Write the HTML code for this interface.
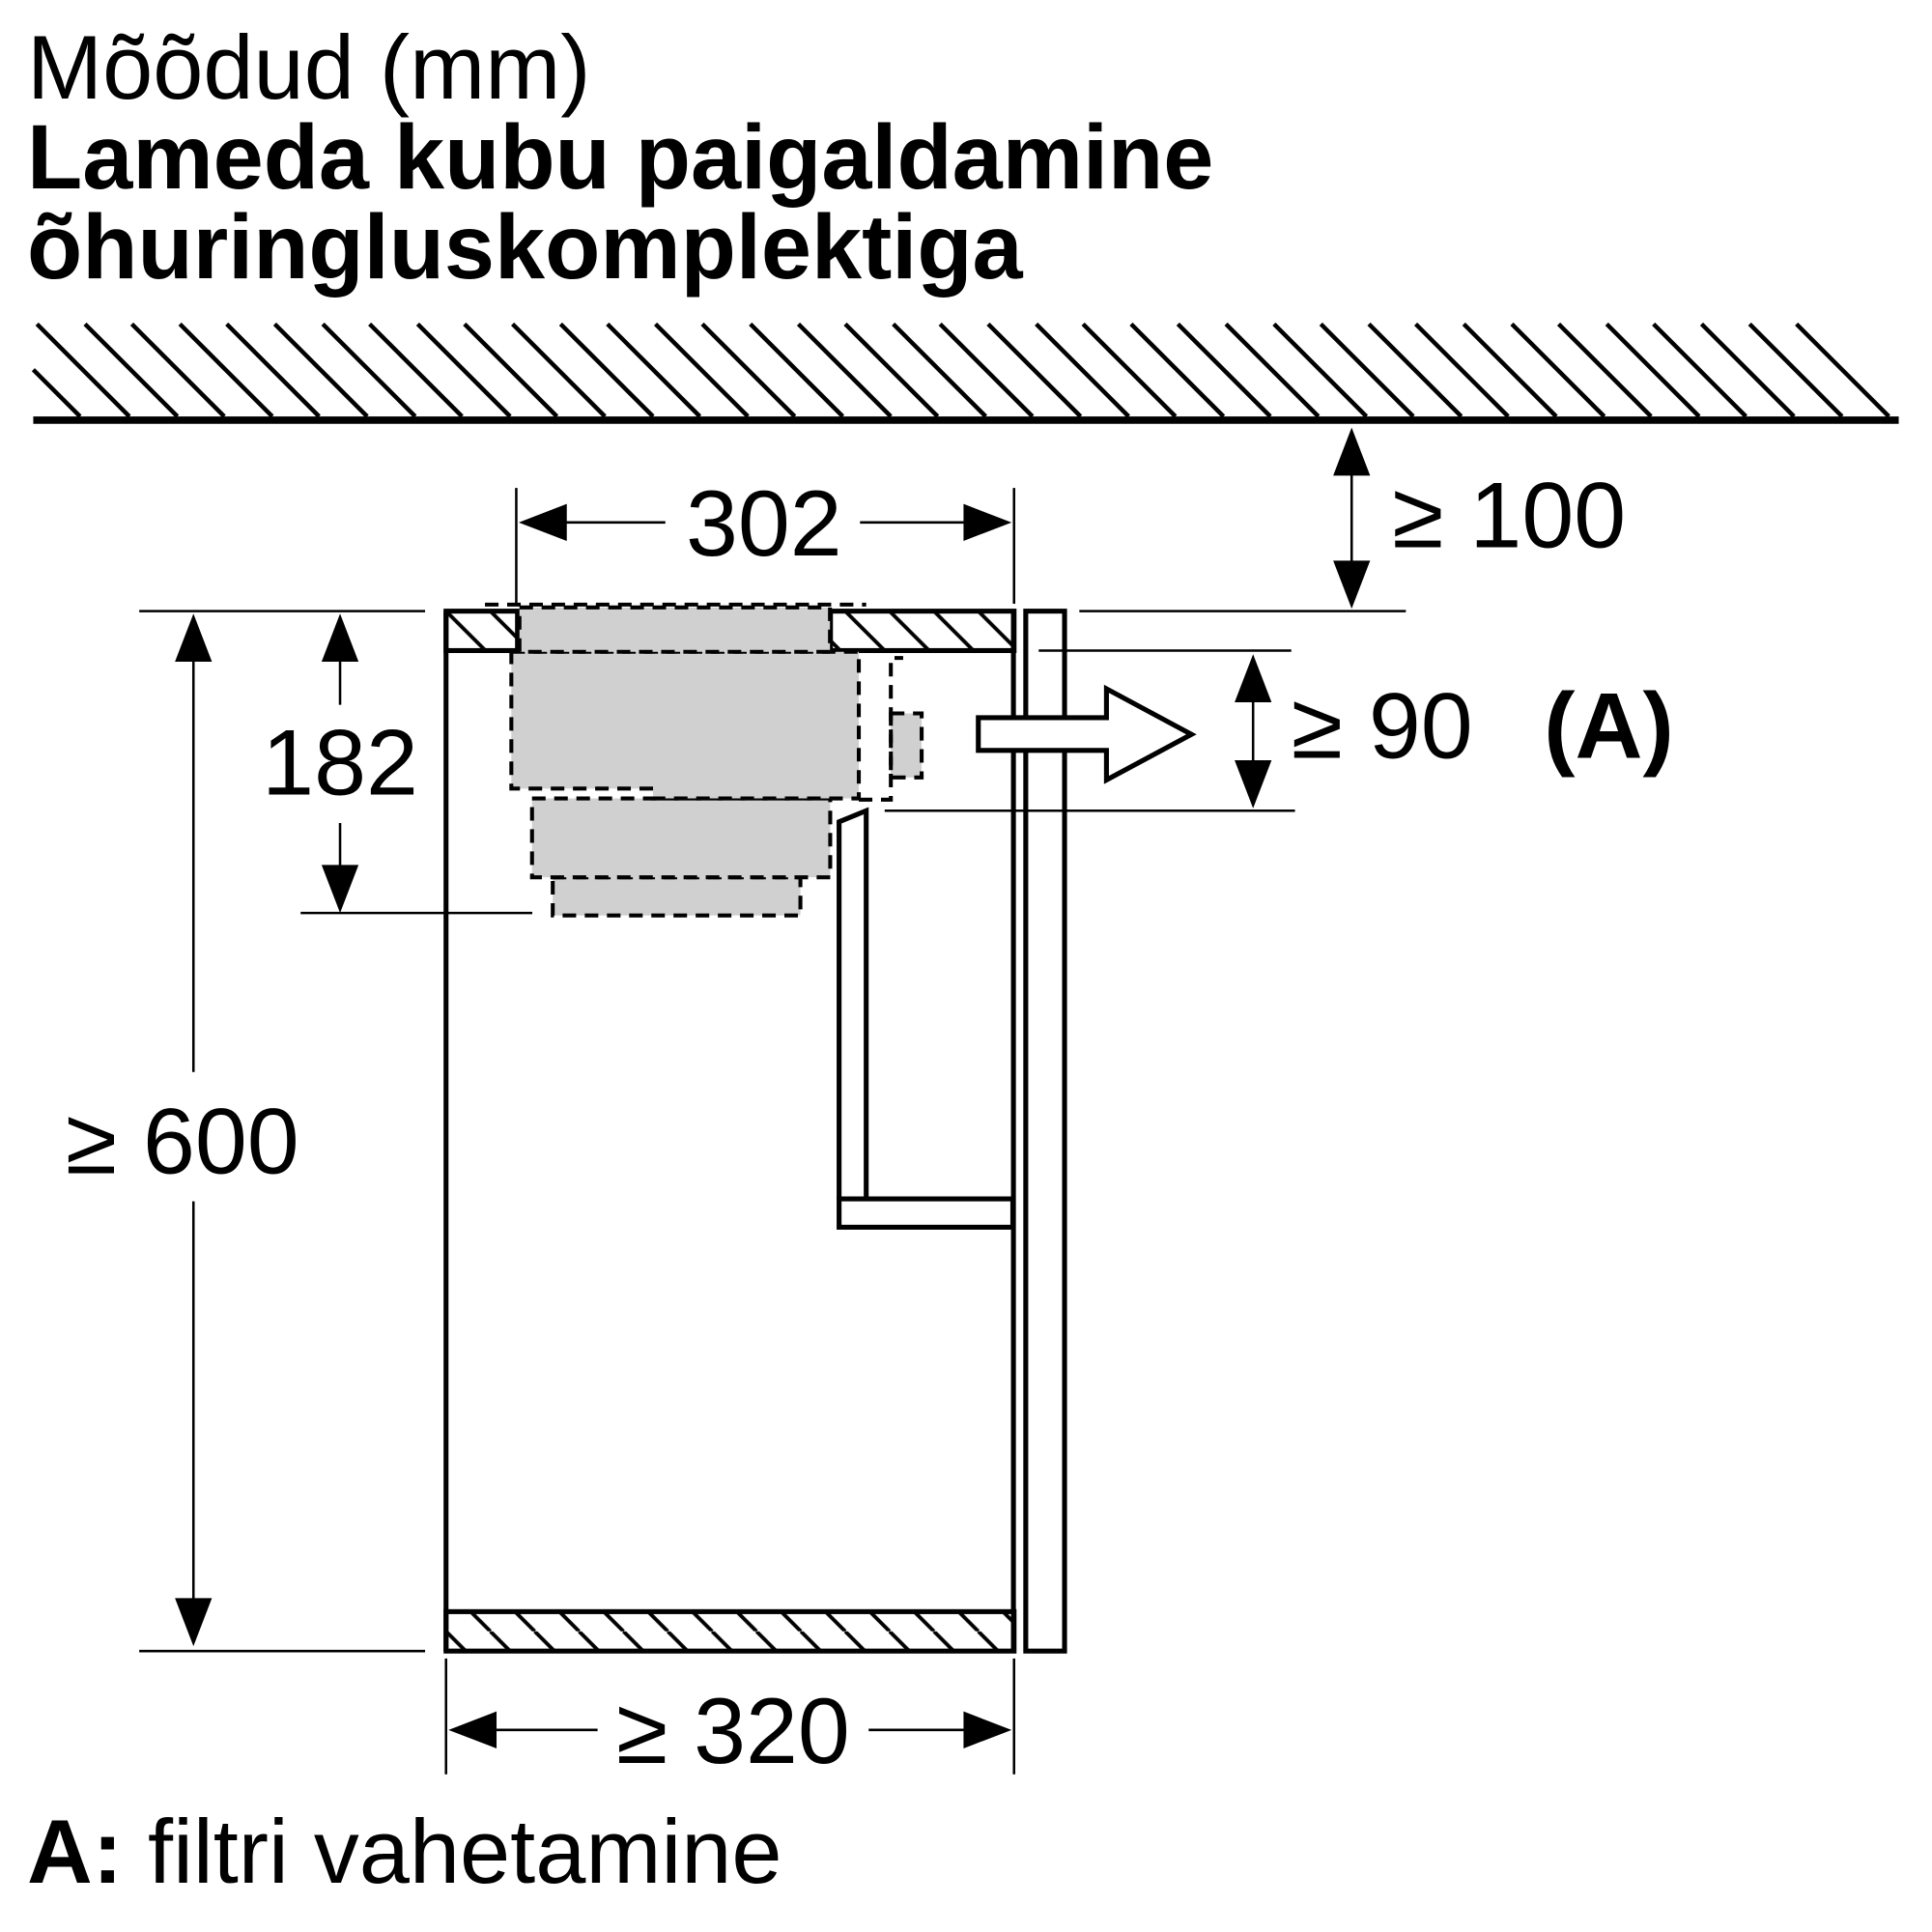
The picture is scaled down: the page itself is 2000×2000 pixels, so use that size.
<!DOCTYPE html>
<html><head><meta charset="utf-8"><style>
html,body{margin:0;padding:0;background:#fff}
svg{display:block}
text{font-family:"Liberation Sans",sans-serif;fill:#000}
</style></head><body>
<svg width="2000" height="2000" viewBox="0 0 1568 1568" xmlns="http://www.w3.org/2000/svg">
<defs>
<pattern id="h" patternUnits="userSpaceOnUse" width="36" height="36" patternTransform="translate(362,496)">
<line x1="0" y1="0" x2="36" y2="36" stroke="#000" stroke-width="3"/>
<line x1="-36" y1="0" x2="0" y2="36" stroke="#000" stroke-width="3"/>
<line x1="36" y1="0" x2="72" y2="36" stroke="#000" stroke-width="3"/>
</pattern>
</defs>
<text x="22" y="80" font-size="73.5">Mõõdud (mm)</text>
<text x="22" y="153" font-size="74" font-weight="bold" textLength="963" lengthAdjust="spacingAndGlyphs">Lameda kubu paigaldamine</text>
<text x="22" y="226" font-size="74" font-weight="bold" textLength="808" lengthAdjust="spacingAndGlyphs">õhuringluskomplektiga</text>

<!-- ceiling -->
<g stroke="#000" stroke-width="3.5">
<line x1="27" y1="300" x2="65" y2="338"/>
<line x1="30" y1="263" x2="105" y2="338"/>
<line x1="69" y1="263" x2="144" y2="338"/>
<line x1="107" y1="263" x2="182" y2="338"/>
<line x1="146" y1="263" x2="221" y2="338"/>
<line x1="184" y1="263" x2="259" y2="338"/>
<line x1="223" y1="263" x2="298" y2="338"/>
<line x1="262" y1="263" x2="337" y2="338"/>
<line x1="300" y1="263" x2="375" y2="338"/>
<line x1="339" y1="263" x2="414" y2="338"/>
<line x1="377" y1="263" x2="452" y2="338"/>
<line x1="416" y1="263" x2="491" y2="338"/>
<line x1="455" y1="263" x2="530" y2="338"/>
<line x1="493" y1="263" x2="568" y2="338"/>
<line x1="532" y1="263" x2="607" y2="338"/>
<line x1="570" y1="263" x2="645" y2="338"/>
<line x1="609" y1="263" x2="684" y2="338"/>
<line x1="648" y1="263" x2="723" y2="338"/>
<line x1="686" y1="263" x2="761" y2="338"/>
<line x1="725" y1="263" x2="800" y2="338"/>
<line x1="763" y1="263" x2="838" y2="338"/>
<line x1="802" y1="263" x2="877" y2="338"/>
<line x1="841" y1="263" x2="916" y2="338"/>
<line x1="879" y1="263" x2="954" y2="338"/>
<line x1="918" y1="263" x2="993" y2="338"/>
<line x1="956" y1="263" x2="1031" y2="338"/>
<line x1="995" y1="263" x2="1070" y2="338"/>
<line x1="1034" y1="263" x2="1109" y2="338"/>
<line x1="1072" y1="263" x2="1147" y2="338"/>
<line x1="1111" y1="263" x2="1186" y2="338"/>
<line x1="1149" y1="263" x2="1224" y2="338"/>
<line x1="1188" y1="263" x2="1263" y2="338"/>
<line x1="1227" y1="263" x2="1302" y2="338"/>
<line x1="1265" y1="263" x2="1340" y2="338"/>
<line x1="1304" y1="263" x2="1379" y2="338"/>
<line x1="1342" y1="263" x2="1417" y2="338"/>
<line x1="1381" y1="263" x2="1456" y2="338"/>
<line x1="1420" y1="263" x2="1495" y2="338"/>
<line x1="1458" y1="263" x2="1533" y2="338"/>
</g>
<line x1="27" y1="341" x2="1541" y2="341" stroke="#000" stroke-width="6"/>

<!-- cabinet hatched bands -->
<rect x="362" y="496" width="58" height="32" fill="url(#h)"/>
<rect x="674" y="496" width="149" height="32" fill="url(#h)"/>
<rect x="362" y="1308" width="461" height="32" fill="url(#h)"/>
<g fill="none" stroke="#000" stroke-width="4">
<rect x="362" y="496" width="58" height="32"/>
<rect x="674" y="496" width="149" height="32"/>
<rect x="362" y="1308" width="461" height="32"/>
<line x1="362" y1="496" x2="362" y2="1340"/>
<line x1="822.5" y1="496" x2="822.5" y2="1340"/>
<rect x="832.5" y="496" width="31.5" height="844"/>
</g>

<!-- gray unit -->
<g fill="#d0d0d0" stroke="#000" stroke-width="3.2" stroke-dasharray="11,7">
<rect x="448.6" y="712" width="201" height="31"/>
<rect x="431.8" y="648" width="242" height="64"/>
<path d="M415 529 H697 V648 H530 V640 H415 Z"/>
<rect x="421.6" y="493" width="252" height="36"/>
<rect x="723" y="579" width="25" height="52"/>
<path d="M697 649 H723 V534 H733" fill="none"/>
<line x1="393.6" y1="490.7" x2="703" y2="490.7" fill="none"/>
</g>

<!-- handle -->
<g fill="none" stroke="#000" stroke-width="4">
<path d="M681 973 V667 L703 658 V973"/>
<rect x="681" y="973" width="141" height="23"/>
</g>

<!-- arrow -->
<path d="M794 582.5 H898 V559 L967 596 L898 633 V609 H794 Z" fill="#fff" stroke="#000" stroke-width="4"/>

<!-- dimension lines -->
<g stroke="#000" stroke-width="2">
<line x1="419" y1="396" x2="419" y2="490"/>
<line x1="823" y1="396" x2="823" y2="490"/>
<line x1="440" y1="424" x2="540" y2="424"/>
<line x1="698" y1="424" x2="800" y2="424"/>
<line x1="1097" y1="360" x2="1097" y2="482"/>
<line x1="876" y1="496" x2="1141" y2="496"/>
<line x1="843" y1="528" x2="1048" y2="528"/>
<line x1="718" y1="658" x2="1051" y2="658"/>
<line x1="1017" y1="545" x2="1017" y2="642"/>
<line x1="276" y1="515" x2="276" y2="572"/>
<line x1="276" y1="668" x2="276" y2="725"/>
<line x1="244" y1="741" x2="432" y2="741"/>
<line x1="113" y1="496" x2="345" y2="496"/>
<line x1="113" y1="1340" x2="345" y2="1340"/>
<line x1="157" y1="515" x2="157" y2="870"/>
<line x1="157" y1="975" x2="157" y2="1320"/>
<line x1="362" y1="1346" x2="362" y2="1440"/>
<line x1="823" y1="1346" x2="823" y2="1440"/>
<line x1="380" y1="1404" x2="485" y2="1404"/>
<line x1="705" y1="1404" x2="805" y2="1404"/>
</g>
<g fill="#000">
<polygon points="421,424 460,409 460,439"/>
<polygon points="821,424 782,409 782,439"/>
<polygon points="1097,347 1082,386 1112,386"/>
<polygon points="1097,494 1082,455 1112,455"/>
<polygon points="1017,531 1002,570 1032,570"/>
<polygon points="1017,656 1002,617 1032,617"/>
<polygon points="276,498 261,537 291,537"/>
<polygon points="276,741 261,702 291,702"/>
<polygon points="157,498 142,537 172,537"/>
<polygon points="157,1336 142,1297 172,1297"/>
<polygon points="364,1404 403,1389 403,1419"/>
<polygon points="821,1404 782,1389 782,1419"/>
</g>
<g font-size="76">
<text x="620" y="451" text-anchor="middle">302</text>
<text x="1130" y="444">≥ 100</text>
<text x="1048" y="615">≥ 90</text>
<text x="1253" y="615" font-weight="bold">(A)</text>
<text x="276" y="645" text-anchor="middle">182</text>
<text x="148" y="952" text-anchor="middle">≥ 600</text>
<text x="595" y="1431" text-anchor="middle">≥ 320</text>
</g>
<text x="22" y="1528" font-size="73.5"><tspan font-weight="bold">A:</tspan> filtri vahetamine</text>
</svg>
</body></html>
